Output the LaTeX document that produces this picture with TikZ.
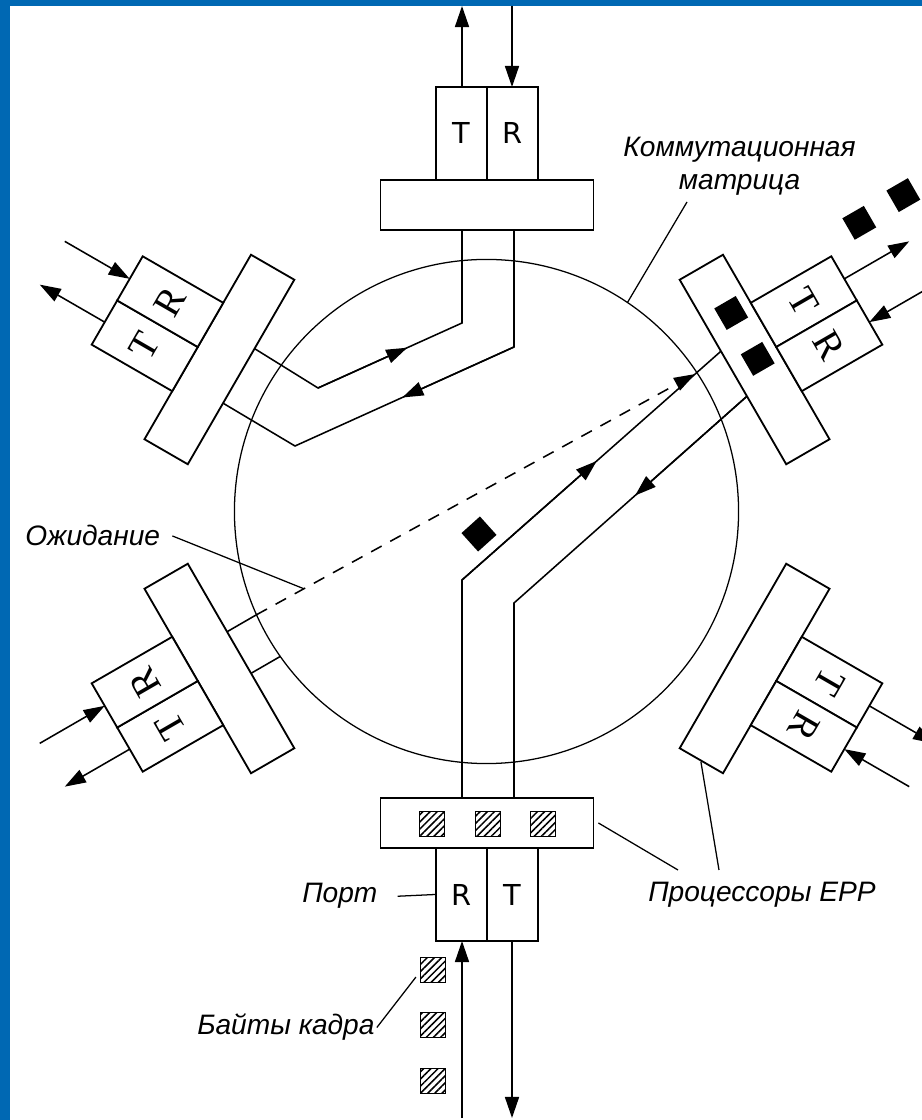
\documentclass[tikz,border=0pt]{standalone}
\usepackage{fontspec}
\setmainfont{Liberation Sans}
\newfontfamily\upfont{DejaVu Sans}
\newfontfamily\rotfont{Liberation Serif}[Scale=1.35]
\usetikzlibrary{arrows.meta,calc,patterns.meta}
\definecolor{slide}{HTML}{0068B3}

\begin{document}
\begin{tikzpicture}[x=0.025cm,y=0.025cm,>={Triangle[length=15pt,width=10pt]},
    eppbox/.style={draw,fill=white,line width=1.3pt,minimum width=5.325cm,
                   minimum height=1.25cm,inner sep=0pt},
    half/.style={draw,fill=white,line width=1.3pt,minimum width=1.275cm,
                 minimum height=2.325cm,inner sep=0pt},
    wire/.style={line width=1.1pt},
    leader/.style={line width=0.9pt},
    lbl/.style={font=\itshape\fontsize{20}{23.5}\selectfont,inner sep=0pt},
    byte/.style={draw,line width=1pt,minimum size=0.62cm,inner sep=0pt,
                 pattern={Lines[angle=45,distance=3.6pt,line width=1.1pt]}},
    frame/.style={fill=black,minimum size=0.62cm,inner sep=0pt}]
    \useasboundingbox (0,0) rectangle (922,1120);
    \fill[slide] (0,0) rectangle (922,1120);
    \fill[white] (10,0) rectangle (922,1114);
    \clip (10,0) rectangle (922,1114);
    \coordinate (C) at (487,606);
    \node[draw,circle,line width=0.9pt,minimum size=12.6cm,inner sep=0pt,
          outer sep=0pt] (ring) at (486.5,608.5) {};
    \begin{scope}[shift={(C)},rotate=60]
        \coordinate (ua) at (27,284);
        \coordinate (ub) at (-36,284);
    \end{scope}
    \begin{scope}[shift={(C)},rotate=120]
        \coordinate (lr0) at (28,284);
        \coordinate (lr1) at (28,250);
        \coordinate (lt0) at (-20,284);
        \coordinate (lt1) at (-20,250);
    \end{scope}
    \begin{scope}[shift={(C)},rotate=300]
        \coordinate (ra) at (-24,284);
        \coordinate (rb) at (28,284);
    \end{scope}
    \coordinate (ta0) at (462,890);
    \coordinate (ta1) at (462,797);
    \coordinate (tb0) at (514,890);
    \coordinate (tb1) at (514,773);
    \coordinate (ka) at (318,732);
    \coordinate (kb) at (295,674);
    \coordinate (bc0) at (462,322);
    \coordinate (bc1) at (462,540);
    \coordinate (bd0) at (514,322);
    \coordinate (bd1) at (514,517);
    \coordinate (dend) at ($(bc1)!0.9!(ra)$);
    \draw[wire] (ta0) -- (ta1) -- (ka) -- (ua);
    \draw[wire,->] (ka) -- ($(ka)!0.62!(ta1)$);
    \draw[wire] (tb0) -- (tb1) -- (kb) -- (ub);
    \draw[wire,->] (tb1) -- ($(tb1)!0.51!(kb)$);
    \draw[wire] (bc0) -- (bc1) -- (ra);
    \draw[wire,->] (bc1) -- ($(bc1)!0.52!(ra)$);
    \draw[wire] (bd0) -- (bd1) -- (rb);
    \draw[wire,->] (rb) -- ($(rb)!0.48!(bd1)$);
    \draw[wire] (lr0) -- (lr1);
    \draw[wire] (lt0) -- (lt1);
    \draw[wire,dash pattern=on 8.5pt off 7pt,->] (lr1) -- (dend);
    \foreach \ang/\rot/\fnt/\len in {0/0/\upfont/508,60/60/\rotfont/502,
        120/120/\rotfont/502,180/0/\upfont/604,240/240/\rotfont/502,
        300/300/\rotfont/502}{
        \begin{scope}[shift={(C)},rotate=\ang]
            \node[eppbox,rotate=\rot] (epp\ang) at (0,309) {};
            \node[half,rotate=\rot,font=\fnt\fontsize{20.5}{20.5}\selectfont]
                (T\ang) at (-25.5,380.5) {T};
            \node[half,rotate=\rot,font=\fnt\fontsize{20.5}{20.5}\selectfont]
                (R\ang) at (25.5,380.5) {R};
            \coordinate (to\ang) at (-25,427);
            \coordinate (te\ang) at (-25,\len);
            \coordinate (rs\ang) at (25,\len);
            \coordinate (ri\ang) at (25,427);
        \end{scope}
        \draw[wire,->] (to\ang) -- (te\ang);
        \draw[wire,->] (rs\ang) -- (ri\ang);
    }
    \begin{scope}[shift={(C)},rotate=300]
        \node[frame,rotate=300] (fa) at (-52,312) {};
        \node[frame,rotate=300] (fb) at (1,312) {};
        \node[frame,rotate=300] (fc) at (-66,468) {};
        \node[frame,rotate=300] (fd) at (-68,520) {};
    \end{scope}
    \node[frame,rotate=42] (fe) at (479,586) {};
    \node[byte] (pa) at (432,296) {};
    \node[byte] (pb) at (488,296) {};
    \node[byte] (pc) at (543,296) {};
    \node[byte] (byte1) at (433,150) {};
    \node[byte] (byte2) at (433,95) {};
    \node[byte] (byte3) at (433,39) {};
    \node[lbl,anchor=north,align=center] (matrixlbl) at (739.5,983)
        {Коммутационная\\матрица};
    \node[lbl,anchor=base west] (waitlbl) at (25,574) {Ожидание};
    \node[lbl,anchor=base west] (portlbl) at (302,217) {Порт};
    \node[lbl,anchor=base west] (epplbl) at (648,218) {Процессоры EPP};
    \node[lbl,anchor=base west] (bytelbl) at (197,85) {Байты кадра};
    \coordinate (mtip) at (687,918);
    \coordinate (wtip) at ($(lr1)!0.108!(dend)$);
    \coordinate (ptip1) at (678,250);
    \coordinate (ptip2) at (719,250);
    \draw[leader] (mtip) -- (ring.56);
    \draw[leader] ([xshift=3mm]waitlbl.east) -- (wtip);
    \draw[leader] ([xshift=5mm]portlbl.east) -- (R180.west);
    \draw[leader] ([xshift=1mm]epp180.east) -- (ptip1);
    \draw[leader] (epp240.east) -- (ptip2);
    \draw[leader] ([xshift=0.5mm]bytelbl.east)
        -- ([xshift=-1mm,yshift=1.5mm]byte1.south west);
\end{tikzpicture}
\end{document}
